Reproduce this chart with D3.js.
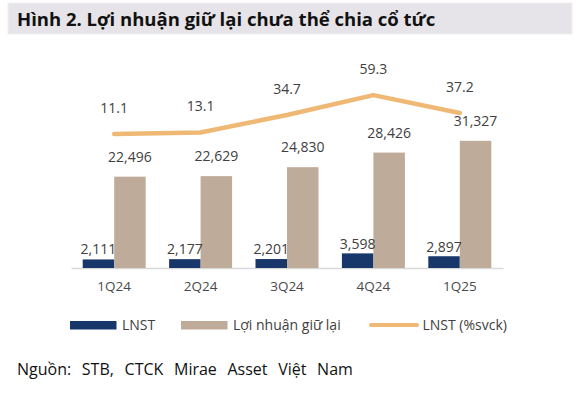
<!DOCTYPE html>
<html><head><meta charset="utf-8">
<script src="https://cdn.jsdelivr.net/npm/d3@7"></script>
<style>
html,body{margin:0;padding:0;background:#fff;}
svg{display:block;font-family:"Open Sans","Noto Sans",sans-serif;}
</style></head>
<body><svg id="c" width="576" height="394"></svg>
<script>
const categories = ["1Q24","2Q24","3Q24","4Q24","1Q25"];
const lnst = [2111, 2177, 2201, 3598, 2897];
const retained = [22496, 22629, 24830, 28426, 31327];
const lnstGrowth = [11.1, 13.1, 34.7, 59.3, 37.2];
const seriesNames = ["LNST", "Lợi nhuận giữ lại", "LNST (%svck)"];
const titleText = "Hình 2. Lợi nhuận giữ lại chưa thể chia cổ tức";
const sourceText = "Nguồn: STB, CTCK Mirae Asset Việt Nam";

const svg = d3.select("#c");
const navy = "#17376b", tan = "#bfab99", orange = "#efb874", txt = "#404040";

// title band
svg.append("rect").attr("x",8).attr("y",3).attr("width",564).attr("height",31)
  .attr("fill","#e6e4e8").attr("stroke","#efeef1").attr("stroke-width",1);
svg.append("text").attr("x",17).attr("y",25.5).attr("font-size",18.5).attr("font-weight",700)
  .attr("fill","#111").text(titleText);

const x0 = d3.scaleBand().domain(categories).range([71,503]);
const barW = 31.5;
const y = d3.scaleLinear().domain([0,50000]).range([268, 268-203]);
const y2 = d3.scaleLinear().domain([-154.5, 96.5]).range([268, 65]);

// axis
const ax = svg.append("g").attr("transform","translate(0,268)")
  .call(d3.axisBottom(x0).tickSize(0).tickPadding(13));
ax.select(".domain").attr("stroke","#d9d9d9").attr("stroke-width",1.5);
ax.selectAll("text").attr("font-size",13.5).attr("fill","#4a4a4a").attr("font-family","Open Sans");

const cx = c => x0(c) + x0.bandwidth()/2;

// LNST bars
svg.append("g").selectAll("rect").data(categories).join("rect")
  .attr("x", c => cx(c) - barW).attr("width", barW)
  .attr("y", (c,i) => y(lnst[i])).attr("height", (c,i) => y(0) - y(lnst[i]))
  .attr("fill", navy);
svg.append("g").selectAll("rect").data(categories).join("rect")
  .attr("x", c => cx(c)).attr("width", barW)
  .attr("y", (c,i) => y(retained[i])).attr("height", (c,i) => y(0) - y(retained[i]))
  .attr("fill", tan);

const fmt = d3.format(",");
svg.append("g").selectAll("text").data(categories).join("text")
  .attr("x", c => cx(c) - barW/2).attr("y", (c,i) => Math.min(y(lnst[i]) - 4, 254))
  .attr("text-anchor","middle").attr("font-size",14).attr("fill",txt)
  .text((c,i) => fmt(lnst[i]));
svg.append("g").selectAll("text").data(categories).join("text")
  .attr("x", c => cx(c) + barW/2).attr("y", (c,i) => y(retained[i]) - 15)
  .attr("text-anchor","middle").attr("font-size",14).attr("fill",txt)
  .text((c,i) => fmt(retained[i]));

// line
const line = d3.line().x((d,i) => cx(categories[i])).y(d => y2(d));
svg.append("path").datum(lnstGrowth).attr("d", line).attr("fill","none")
  .attr("stroke", orange).attr("stroke-width",4.5).attr("stroke-linecap","round").attr("stroke-linejoin","round");
svg.append("g").selectAll("text").data(lnstGrowth).join("text")
  .attr("x", (d,i) => cx(categories[i])).attr("y", d => y2(d) - 21)
  .attr("text-anchor","middle").attr("font-size",14).attr("fill",txt)
  .text(d => d.toFixed(1));

// legend
const lg = svg.append("g");
lg.append("rect").attr("x",70).attr("y",321).attr("width",46.5).attr("height",8.5).attr("fill",navy);
lg.append("text").attr("x",122).attr("y",330).attr("font-size",14).attr("fill",txt).text(seriesNames[0]);
lg.append("rect").attr("x",181).attr("y",321).attr("width",46.5).attr("height",8.5).attr("fill",tan);
lg.append("text").attr("x",233).attr("y",330).attr("font-size",14).attr("fill",txt).text(seriesNames[1]);
lg.append("line").attr("x1",371).attr("x2",417).attr("y1",325).attr("y2",325)
  .attr("stroke",orange).attr("stroke-width",4).attr("stroke-linecap","round");
lg.append("text").attr("x",422.5).attr("y",330).attr("font-size",14).attr("fill",txt).text(seriesNames[2]);

// source
svg.append("text").attr("x",17).attr("y",375).attr("font-size",16).attr("fill","#111")
  .attr("word-spacing",6.5).text(sourceText);
</script></body></html>
